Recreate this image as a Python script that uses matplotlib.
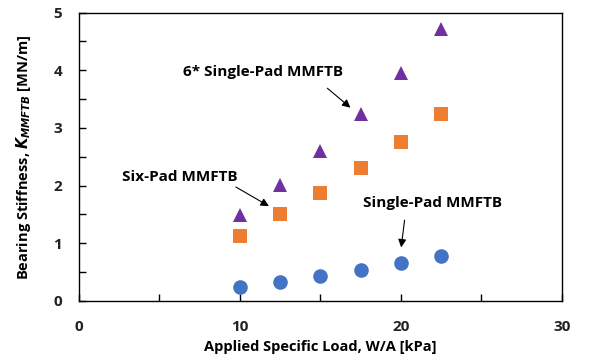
import matplotlib
matplotlib.use("Agg")
import matplotlib.pyplot as plt
from matplotlib.ticker import MultipleLocator

plt.rcParams['font.family'] = ['Open Sans', 'DejaVu Sans']

load = [10, 12.5, 15, 17.5, 20, 22.5]
single_pad = [0.25, 0.335, 0.43, 0.53, 0.65, 0.78]
six_pad = [1.13, 1.50, 1.88, 2.30, 2.75, 3.24]
six_x_single = [1.49, 2.01, 2.60, 3.25, 3.95, 4.71]

fig = plt.figure(figsize=(6.1, 3.6), dpi=100)
ax = fig.add_axes([0.1295, 0.164, 0.7915, 0.801])

ax.plot(load, single_pad, 'o', color='#4472C4', markersize=10.5, markeredgewidth=0, zorder=3)
ax.plot(load, six_pad, 's', color='#ED7D31', markersize=9.5, markeredgewidth=0, zorder=3)
ax.plot(load, six_x_single, '^', color='#7030A0', markersize=10, markeredgewidth=0, zorder=3)

ax.set_xlim(0, 30)
ax.set_ylim(0, 5)
ax.xaxis.set_major_locator(MultipleLocator(10))
ax.xaxis.set_minor_locator(MultipleLocator(5))
ax.yaxis.set_major_locator(MultipleLocator(1))
ax.yaxis.set_minor_locator(MultipleLocator(0.5))
ax.tick_params(which='both', direction='in', length=5, width=1, colors='black')
ax.tick_params(axis='x', which='major', pad=14)
ax.tick_params(axis='y', which='major', pad=12)
for lab in ax.get_xticklabels() + ax.get_yticklabels():
    lab.set_fontsize(11)
    lab.set_fontweight('bold')
    lab.set_color('#222222')
for s in ax.spines.values():
    s.set_linewidth(1)
    s.set_color('black')

ax.set_xlabel('Applied Specific Load, W/A [kPa]', fontsize=10.5, fontweight='bold', labelpad=4)
ax.set_ylabel(r'Bearing Stiffness, $\boldsymbol{K}_{\boldsymbol{MMFTB}}$ [MN/m]',
              fontsize=10.5, fontweight='bold', labelpad=15)

arrow = dict(arrowstyle='-|>', color='black', lw=0.8, mutation_scale=12)
text_kw = dict(fontsize=11, fontweight='bold', ha='center', va='center')

ax.text(11.45, 3.97, '6* Single-Pad MMFTB', **text_kw)
ax.annotate('', xy=(17.0, 3.32), xytext=(15.3, 3.72), arrowprops=arrow)

ax.text(6.25, 2.15, 'Six-Pad MMFTB', **text_kw)
ax.annotate('', xy=(11.95, 1.62), xytext=(9.6, 2.0), arrowprops=arrow)

ax.text(21.95, 1.70, 'Single-Pad MMFTB', **text_kw)
ax.annotate('', xy=(20.0, 0.88), xytext=(20.25, 1.45), arrowprops=arrow)

fig.savefig('out.png', dpi=100)
